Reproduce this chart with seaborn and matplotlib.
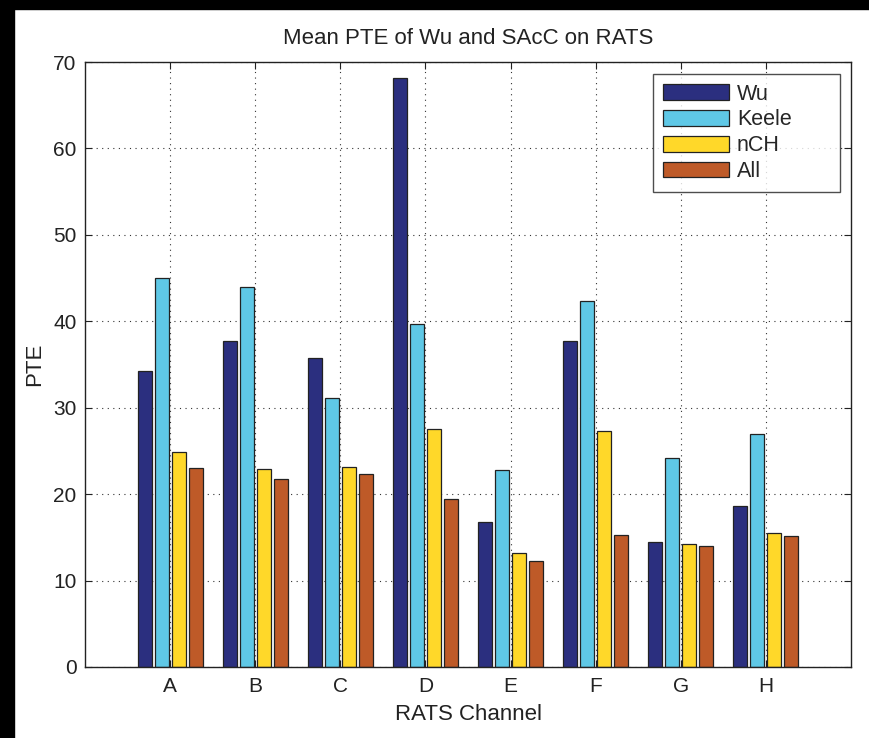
import matplotlib
matplotlib.use("Agg")
import matplotlib.pyplot as plt
import seaborn as sns
import pandas as pd
from matplotlib.patches import Rectangle

channels = ["A", "B", "C", "D", "E", "F", "G", "H"]
methods = ["Wu", "Keele", "nCH", "All"]
wu = [34.2, 37.7, 35.7, 68.2, 16.8, 37.7, 14.5, 18.6]
keele = [45.0, 44.0, 31.1, 39.7, 22.8, 42.3, 24.2, 27.0]
nch = [24.9, 22.9, 23.1, 27.5, 13.2, 27.3, 14.2, 15.5]
all_ = [23.0, 21.8, 22.3, 19.4, 12.3, 15.3, 14.0, 15.2]
colors = ["#2B2F7F", "#5FC8E6", "#FFD829", "#BE5A28"]

rows = []
for m, vals in zip(methods, [wu, keele, nch, all_]):
    for c, v in zip(channels, vals):
        rows.append({"channel": c, "method": m, "PTE": v})
df = pd.DataFrame(rows)

sns.set_theme(style="white")
plt.rcParams["font.family"] = ["Liberation Sans", "DejaVu Sans"]

W, H = 869, 738
fig = plt.figure(figsize=(W / 100, H / 100), dpi=100)
ax = fig.add_axes([85 / W, 1 - 667 / H, (851 - 85) / W, (667 - 62) / H])

sns.barplot(data=df, x="channel", y="PTE", hue="method", order=channels,
            hue_order=methods, palette=colors, width=0.8, gap=0.18,
            edgecolor="#222222", linewidth=0.9, saturation=1, ax=ax)

ax.set_xlim(-1, 8)
ax.set_ylim(0, 70)
ax.set_yticks(range(0, 71, 10))
ax.set_title("Mean PTE of Wu and SAcC on RATS", fontsize=16, color="#222222", pad=13)
ax.set_xlabel("RATS Channel", fontsize=16, color="#222222", labelpad=6)
ax.set_ylabel("PTE", fontsize=16, color="#222222", labelpad=6)
ax.tick_params(axis="both", labelsize=15, colors="#222222", direction="in",
               length=5, top=True, right=True, bottom=True, left=True, width=0.8)
ax.tick_params(axis="x", pad=7)
ax.tick_params(axis="y", pad=6)
ax.grid(True, linestyle=(0, (1, 4)), color="#333333", linewidth=0.8)
ax.set_axisbelow(True)
for s in ax.spines.values():
    s.set_visible(True)
    s.set_color("#222222")
    s.set_linewidth(1.0)

x0 = (653 - 85) / 766
x1 = (840 - 85) / 766
y1 = (667 - 74) / 605
y0 = (667 - 192) / 605
leg = ax.legend(loc="upper left", bbox_to_anchor=(x0, y0, x1 - x0, y1 - y0),
                mode="expand", borderaxespad=0,
                fontsize=15.5, frameon=True, fancybox=False,
                edgecolor="#222222", handlelength=3.1, handleheight=0.75,
                labelspacing=0.22, handletextpad=0.35, borderpad=0.45)
leg.get_frame().set_linewidth(1.0)
leg.set_title(None)

# black scan border (top and left)
fig.patches.append(Rectangle((0, 1 - 9 / H), 1, 9 / H, transform=fig.transFigure,
                             color="black", zorder=10))
fig.patches.append(Rectangle((0, 0), 14 / W, 1, transform=fig.transFigure,
                             color="black", zorder=10))

fig.savefig("out.png", dpi=100)
